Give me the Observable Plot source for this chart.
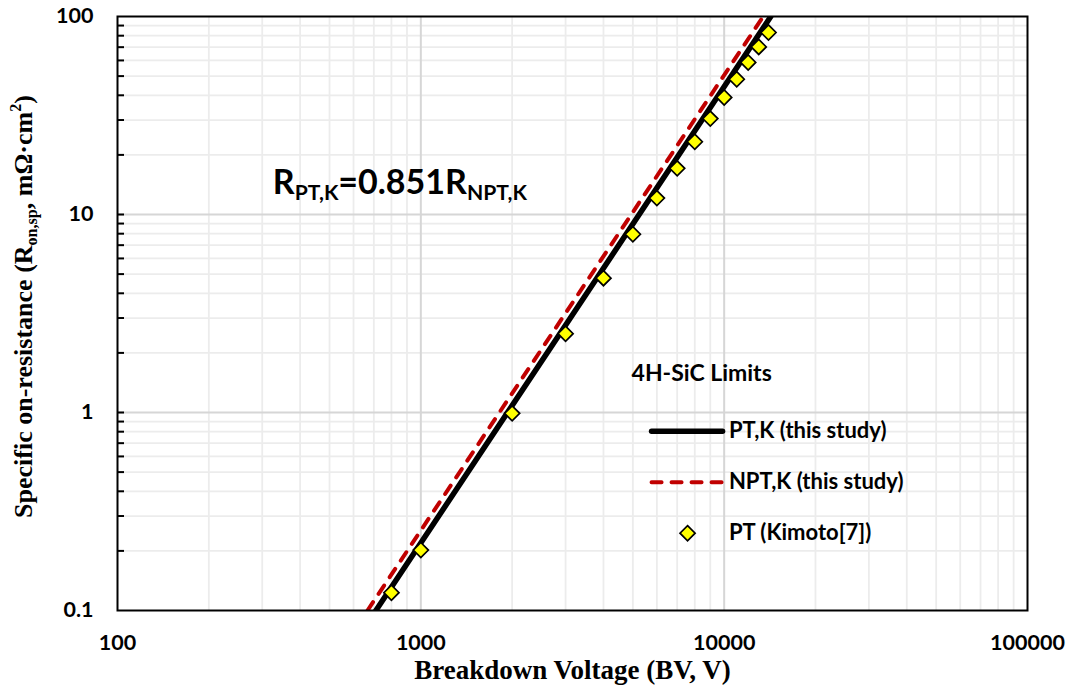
<!DOCTYPE html>
<html>
<head>
<meta charset="utf-8">
<script src="https://cdn.jsdelivr.net/npm/d3@7"></script>
<script src="https://cdn.jsdelivr.net/npm/@observablehq/plot@0.6"></script>
<style>
  html, body { margin: 0; padding: 0; background: #fff; }
</style>
</head>
<body>
<script>
// ---- Data ----
// Kimoto PT points: breakdown voltage (V) and specific on-resistance (mΩ·cm²)
const kimotoBV = [800, 1000, 2000, 3000, 4000, 5000, 6000, 7000, 8000, 9000, 10000, 11000, 12000, 13000, 14000];
const kimotoR  = [0.123, 0.202, 0.99, 2.5, 4.77, 7.95, 12.1, 17.1, 23.3, 30.5, 39.0, 48.2, 58.6, 70.2, 83.0];

// PT,K (this study) line, read at its ends
const ptBV  = [711, 14250];
const ptR   = [0.1, 100];
// NPT,K (this study) line, read at its ends
const nptBV = [667, 13450];
const nptR  = [0.1, 100];

// Axis ticks and grid
const xTicks = [100, 1000, 10000, 100000];
const yTicks = [0.1, 1, 10, 100];
const xMajorGrid = [1000, 10000];
const yMajorGrid = [1, 10];
const xMinorGrid = [200, 300, 400, 500, 600, 700, 800, 900,
                    2000, 3000, 4000, 5000, 6000, 7000, 8000, 9000,
                    20000, 30000, 40000, 50000, 60000, 70000, 80000, 90000];
const yMinorGrid = [0.2, 0.3, 0.4, 0.5, 0.6, 0.7, 0.8, 0.9,
                    2, 3, 4, 5, 6, 7, 8, 9,
                    20, 30, 40, 50, 60, 70, 80, 90];
const yInnerTicks = [...yMinorGrid, 1, 10];

// Texts
const xTitle = "Breakdown Voltage (BV, V)";
const yTitle = "Specific on-resistance (R_{on,sp}, mΩ·cm^{2})";
const formula = "R_{PT,K}=0.851R_{NPT,K}";
const legendTitle = "4H-SiC Limits";
const legendLabels = ["PT,K (this study)", "NPT,K (this study)", "PT (Kimoto[7])"];

// Build tables
const kimoto = kimotoBV.map((v, i) => ({V: v, R: kimotoR[i]}));
const ptLine = ptBV.map((v, i) => ({V: v, R: ptR[i]}));
const nptLine = nptBV.map((v, i) => ({V: v, R: nptR[i]}));

// Legend placement (data coordinates inside the plot)
const legX0 = 5763, legX1 = 9878, legTextX = 10364, legTitleX = 4951;
const legY = [0.804, 0.4446, 0.2457];
const legTitleY = 1.574;
const legDiamondX = 7574;

const serif = "'Liberation Serif', 'Times New Roman', serif";

const chart = Plot.plot({
  width: 1071,
  height: 695,
  marginLeft: 117,
  marginRight: 44,
  marginTop: 16,
  marginBottom: 85,
  x: {type: "log", domain: [100, 100000]},
  y: {type: "log", domain: [0.1, 100]},
  style: {fontFamily: "Lato, 'Open Sans', sans-serif", background: "white", color: "black"},
  marks: [
    Plot.ruleX(xMinorGrid, {stroke: "#ececec", strokeWidth: 1.8}),
    Plot.ruleY(yMinorGrid, {stroke: "#ececec", strokeWidth: 1.8}),
    Plot.ruleX(xMajorGrid, {stroke: "#d6d6d6", strokeWidth: 2}),
    Plot.ruleY(yMajorGrid, {stroke: "#d6d6d6", strokeWidth: 2}),
    Plot.line(ptLine, {x: "V", y: "R", stroke: "black", strokeWidth: 5.5, clip: true}),
    Plot.line(nptLine, {x: "V", y: "R", stroke: "#C00000", strokeWidth: 4, strokeDasharray: "10 10", strokeLinecap: "round", clip: true}),
    Plot.dot(kimoto, {x: "V", y: "R", symbol: "diamond2", r: 6.8, fill: "#FFFF00", stroke: "black", strokeWidth: 1.7}),
    Plot.frame({stroke: "black", strokeWidth: 2}),
    Plot.tickY(yInnerTicks, {y: d => d, stroke: "black", strokeWidth: 2, insetRight: 903}),
    Plot.axisX({ticks: xTicks, tickSize: 0, tickPadding: 24, tickFormat: d => String(d), fontSize: 21.5, fontWeight: 700, label: null}),
    Plot.axisY({ticks: yTicks, tickSize: 0, tickPadding: 24, tickFormat: d => String(d), fontSize: 21.5, fontWeight: 700, label: null}),
    // Axis titles
    Plot.text([xTitle], {frameAnchor: "bottom", dy: 68, text: d => d, textAnchor: "middle", fontFamily: serif, fontWeight: 700, fontSize: 27}),
    Plot.text([yTitle], {frameAnchor: "left", dx: -94, dy: -7, rotate: -90, text: d => d, textAnchor: "middle", fontFamily: serif, fontWeight: 700, fontSize: 26}),
    // Formula annotation
    Plot.text([formula], {x: 325, y: 14.47, text: d => d, textAnchor: "start", fontSize: 34, fontWeight: 700}),
    // Legend
    Plot.text([legendTitle], {x: legTitleX, y: legTitleY, text: d => d, textAnchor: "start", fontSize: 23, fontWeight: 700}),
    Plot.line([{V: legX0, R: legY[0]}, {V: legX1, R: legY[0]}], {x: "V", y: "R", stroke: "black", strokeWidth: 5.5, strokeLinecap: "round"}),
    Plot.line([{V: legX0, R: legY[1]}, {V: legX1, R: legY[1]}], {x: "V", y: "R", stroke: "#C00000", strokeWidth: 4, strokeDasharray: "10 10", strokeLinecap: "round"}),
    Plot.dot([{V: legDiamondX, R: legY[2]}], {x: "V", y: "R", symbol: "diamond2", r: 6.8, fill: "#FFFF00", stroke: "black", strokeWidth: 1.7}),
    Plot.text(legendLabels, {x: legTextX, y: (d, i) => legY[i], text: d => d, textAnchor: "start", fontSize: 22, fontWeight: 700})
  ]
});

document.body.append(chart);

// Turn _{..} and ^{..} markup into real subscript / superscript tspans
function richify(svg) {
  const ns = "http://www.w3.org/2000/svg";
  svg.querySelectorAll("text").forEach(t => {
    const s = t.textContent;
    if (!/[_^]\{/.test(s)) return;
    const parts = [];
    const re = /([_^])\{([^}]*)\}/g;
    let last = 0, m;
    while ((m = re.exec(s))) {
      if (m.index > last) parts.push({t: s.slice(last, m.index)});
      parts.push({t: m[2], k: m[1]});
      last = re.lastIndex;
    }
    if (last < s.length) parts.push({t: s.slice(last)});
    const fs = parseFloat(getComputedStyle(t).fontSize) || 20;
    while (t.firstChild) t.removeChild(t.firstChild);
    let shift = 0;
    parts.forEach(p => {
      const ts = document.createElementNS(ns, "tspan");
      const want = p.k === "_" ? 0.18 * fs : p.k === "^" ? -0.4 * fs : 0;
      if (want - shift !== 0) ts.setAttribute("dy", want - shift);
      shift = want;
      if (p.k) ts.setAttribute("font-size", (0.62 * fs).toFixed(1));
      ts.textContent = p.t;
      t.appendChild(ts);
    });
  });
}
richify(chart);
</script>
</body>
</html>
